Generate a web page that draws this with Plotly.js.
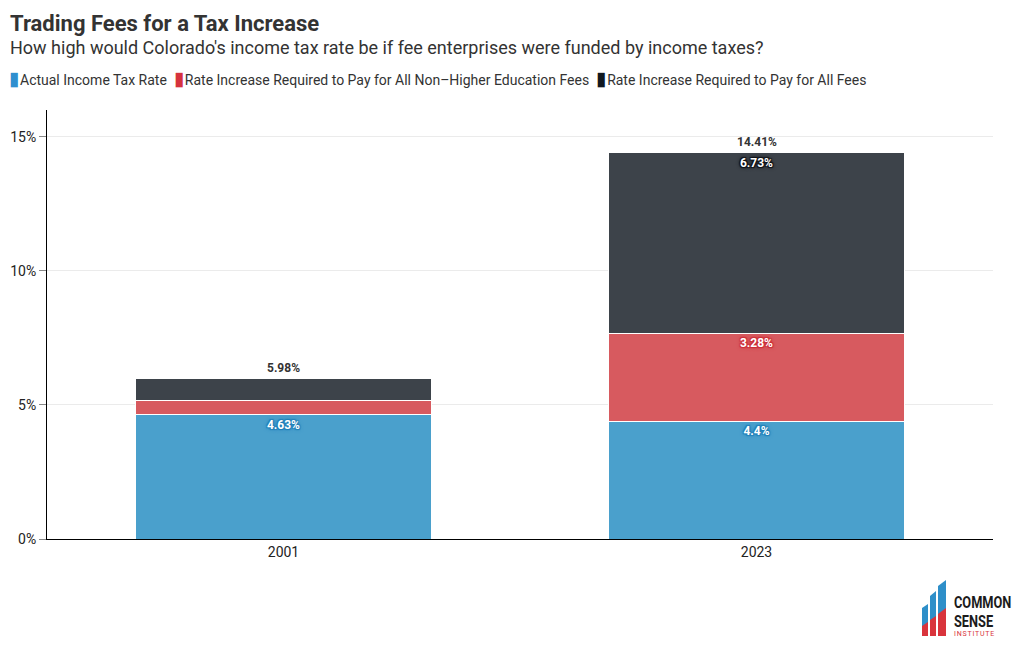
<!DOCTYPE html>
<html><head><meta charset="utf-8">
<script src="https://cdn.plot.ly/plotly-3.0.1.min.js"></script>
<style>
html,body{margin:0;padding:0;background:#fff;}
#chart{width:1020px;height:650px;position:relative;}
#logo{position:absolute;left:918px;top:578px;width:100px;height:64px;}
</style></head>
<body>
<div id="chart"></div>
<svg id="logo" viewBox="0 0 100 64" xmlns="http://www.w3.org/2000/svg">
  <polygon points="4,30 10,26 10,58 4,58" fill="#2e8fc9"/>
  <polygon points="12,18 18,13 18,58 12,58" fill="#2e8fc9"/>
  <polygon points="20,8 28,2 28,58 20,58" fill="#2e8fc9"/>
  <polygon points="4,48 10,44 10,58 4,58" fill="#d9343c"/>
  <polygon points="12,42 18,38 18,58 12,58" fill="#d9343c"/>
  <polygon points="20,36 28,30 28,58 20,58" fill="#d9343c"/>
  <g transform="translate(36,0) scale(0.8,1)">
    <text x="0" y="30" font-family="Roboto, sans-serif" font-weight="bold" font-size="16" fill="#1b1b1b">COMMON</text>
    <text x="0" y="49" font-family="Roboto, sans-serif" font-weight="bold" font-size="16" fill="#1b1b1b">SENSE</text>
  </g>
  <text x="36" y="58" font-family="Roboto, sans-serif" font-size="7" fill="#d9343c" letter-spacing="0.8">INSTITUTE</text>
</svg>
<script>
const categories = ["2001", "2023"];
const actualRate = [4.63, 4.4];
const nonHigherEdIncrease = [0.52, 3.28];
const allFeesIncrease = [0.83, 6.73];
const actualLabels = ["4.63%", "4.4%"];
const nonHigherEdLabels = ["", "3.28%"];
const allFeesLabels = ["", "6.73%"];
const totalLabels = ["5.98%", "14.41%"];
const seriesNames = ["Actual Income Tax Rate", "Rate Increase Required to Pay for All Non\u2013Higher Education Fees", "Rate Increase Required to Pay for All Fees"];
const legendColors = ["#2f8fcf", "#d6333d", "#101820"];

const font = "Roboto, 'Open Sans', sans-serif";
function seg(name, y, text, color, outline) {
  return {
    type: 'bar', name: name, x: categories, y: y, text: text,
    textposition: 'inside', insidetextanchor: 'end', constraintext: 'none', textangle: 0,
    textfont: {family: font, size: 12, color: '#ffffff', weight: 'bold',
               shadow: '1px 1px 1px ' + outline + ', -1px -1px 1px ' + outline + ', 1px -1px 1px ' + outline + ', -1px 1px 1px ' + outline + ', 0px 0px 4px ' + outline},
    marker: {color: color, line: {color: '#ffffff', width: 1}},
    hoverinfo: 'skip', showlegend: false
  };
}
const traces = [
  seg(seriesNames[0], actualRate, actualLabels, '#4aa0cc', '#1f7fb8'),
  seg(seriesNames[1], nonHigherEdIncrease, nonHigherEdLabels, '#d75a5f', '#cc2f38'),
  seg(seriesNames[2], allFeesIncrease, allFeesLabels, '#3d434a', '#0d1117')
];
const totals = categories.map((c, i) => actualRate[i] + nonHigherEdIncrease[i] + allFeesIncrease[i]);
const annotations = categories.map((c, i) => ({
  x: i, y: totals[i], xref: 'x', yref: 'y', text: '<b>' + totalLabels[i] + '</b>',
  showarrow: false, yanchor: 'bottom', yshift: 2,
  font: {family: font, size: 12, color: '#333333'}
}));
annotations.push({
  xref: 'paper', yref: 'paper', x: 0, y: 1, xanchor: 'left', yanchor: 'middle', showarrow: false,
  xshift: -39, yshift: 63,
  text: "How high would Colorado's income tax rate be if fee enterprises were funded by income taxes?",
  font: {family: font, size: 18, color: '#333333'}
});
// legend line drawn as text
const legendText = seriesNames.map((n, i) => '<span style="color:' + legendColors[i] + ';font-size:19px">\u25AE</span><span style="font-size:4px">\u00A0</span>' + n).join('\u00A0\u00A0');
annotations.push({
  xref: 'paper', yref: 'paper', x: 0, y: 1, xanchor: 'left', yanchor: 'middle', showarrow: false,
  xshift: -40, yshift: 32,
  text: legendText,
  font: {family: font, size: 14, color: '#333333'}
});
const layout = {
  width: 1020, height: 650,
  margin: {l: 47, r: 27, t: 110, b: 111},
  paper_bgcolor: '#ffffff', plot_bgcolor: '#ffffff',
  font: {family: font, color: '#333333', size: 13},
  title: {text: '<b>Trading Fees for a Tax Increase</b>', x: 10/1020, xanchor: 'left', xref: 'container',
          y: 1 - 23/650, yanchor: 'middle', yref: 'container',
          font: {family: font, size: 22, color: '#333333'}},
  barmode: 'stack', bargap: 0.376,
  showlegend: false,
  xaxis: {type: 'category', showline: true, linecolor: '#000000', linewidth: 1, ticks: '',
          tickfont: {family: font, size: 14, color: '#222222'}, fixedrange: true},
  yaxis: {range: [0, 16], tickvals: [0, 5, 10, 15], ticktext: ['0%', '5%', '10%', '15%'],
          showgrid: true, gridcolor: '#ebebeb', showline: true, linecolor: '#000000', linewidth: 1,
          ticks: 'outside', ticklen: 7, tickcolor: '#888888', zeroline: false,
          tickfont: {family: font, size: 14, color: '#222222'}, fixedrange: true},
  annotations: annotations
};
Plotly.newPlot('chart', traces, layout, {displayModeBar: false, staticPlot: true});
</script>
</body></html>
